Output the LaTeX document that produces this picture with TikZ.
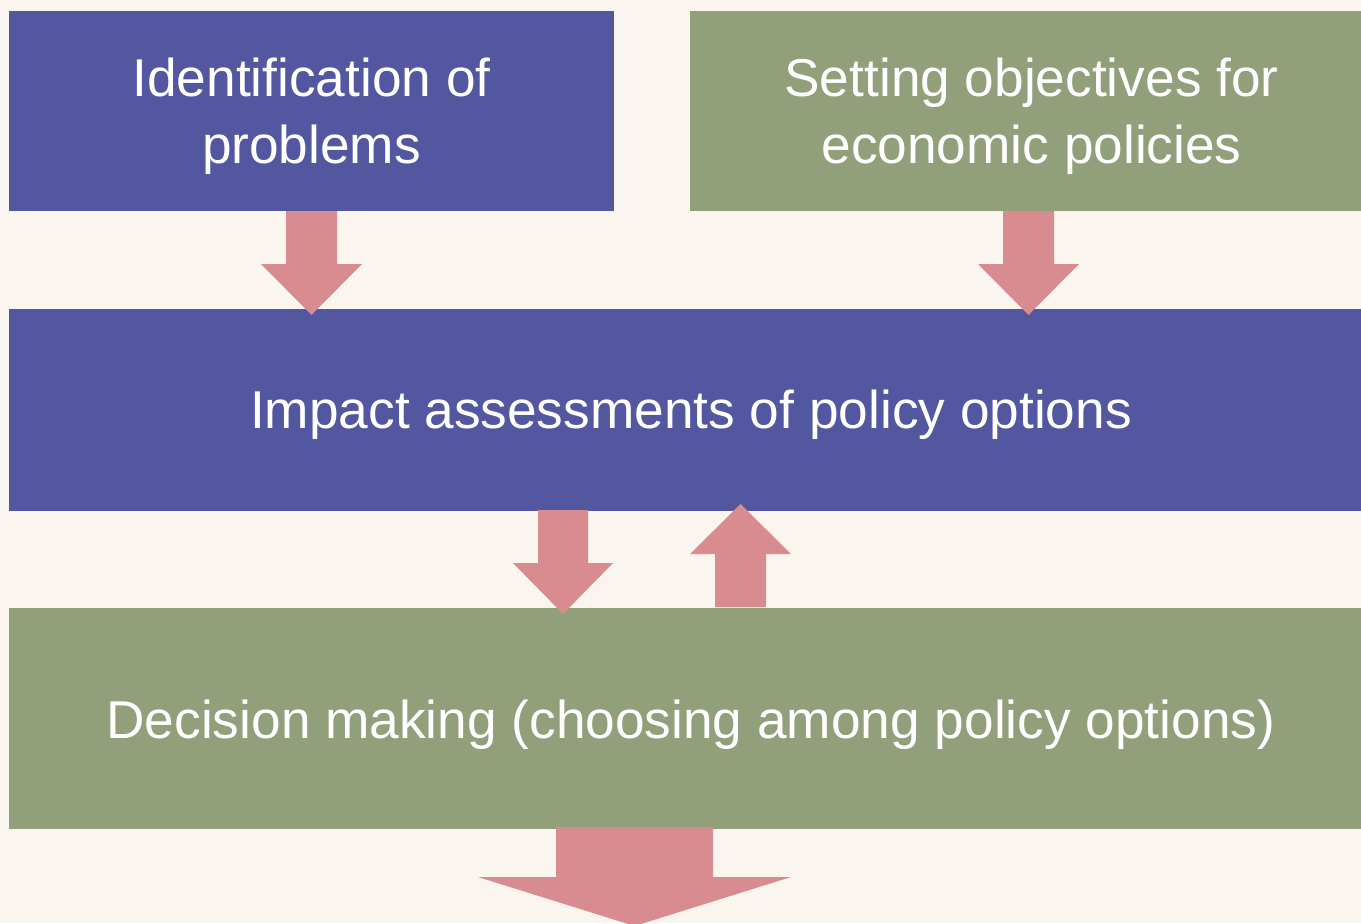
\documentclass[tikz,border=0pt]{standalone}
\usepackage{fontspec}
\setmainfont{Liberation Sans}
\usetikzlibrary{positioning}

\definecolor{bluebox}{RGB}{82,87,160}
\definecolor{greenbox}{RGB}{146,159,123}
\definecolor{pinkarrow}{RGB}{217,140,143}
\definecolor{paper}{RGB}{250,245,239}

%% block arrow: x, tail y, neck y, tip y, half shaft, half head
\newcommand{\fatarrow}[6]{%
  \fill[pinkarrow] ({#1-#5},#2) -- ({#1+#5},#2) -- ({#1+#5},#3) -- ({#1+#6},#3)
    -- (#1,#4) -- ({#1-#6},#3) -- ({#1-#5},#3) -- cycle;}

\begin{document}
\begin{tikzpicture}[x=0.02cm,y=-0.02cm,
  box/.style={inner sep=0pt,text=white,align=center,text depth=0pt,
    font=\fontsize{30.3}{38}\selectfont}]
%%Background
\clip (0,0) rectangle (1361,923);
\fill[paper] (0,0) rectangle (1361,923);
%%Boxes
\node[box,fill=bluebox,minimum width=12.1cm,minimum height=4cm] (idp) at (311.5,111)
  {Identification of\\problems};
\node[box,fill=greenbox,minimum width=13.68cm,minimum height=4cm,right=1.5cm of idp] (obj)
  {Setting objectives for\\economic policies};
\node[box,fill=bluebox,minimum width=27.28cm,minimum height=4.04cm,
  below=1.94cm of idp.south west,anchor=north west] (imp)
  {Impact assessments of policy options};
\node[box,fill=greenbox,minimum width=27.28cm,minimum height=4.42cm,
  below=1.94cm of imp.south west,anchor=north west] (dec)
  {Decision making (choosing among policy options)};
%%Arrows
\fatarrow{311.5}{211}{264}{315}{25.5}{50.5}
\fatarrow{1028.5}{211}{264}{315}{25.5}{50.5}
\fatarrow{563}{510}{563}{614}{25}{50}
\fatarrow{740.5}{607}{554}{504}{25.5}{50.5}
\fatarrow{634.5}{827}{877}{926}{78.5}{156.5}

\end{tikzpicture}
\end{document}
